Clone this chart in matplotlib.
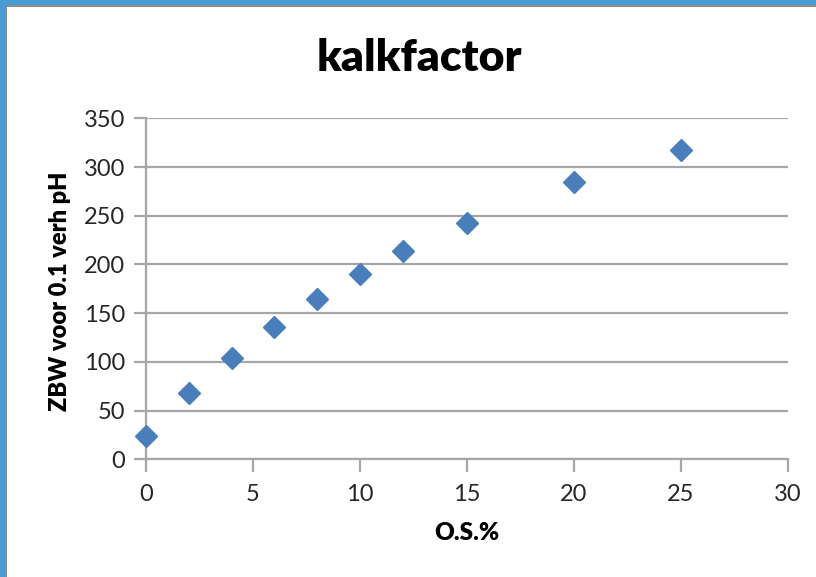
import matplotlib
matplotlib.use("Agg")
import matplotlib.pyplot as plt
from matplotlib.patches import Rectangle

plt.rcParams['font.family'] = ['Lato', 'DejaVu Sans']

# O.S.% versus ZBW needed for a 0.1 pH shift
os_pct = [0, 2, 4, 6, 8, 10, 12, 15, 20, 25]
zbw = [24, 68, 104, 136, 165, 190, 214, 243, 285, 317]

x_ticks = [0, 5, 10, 15, 20, 25, 30]
y_ticks = [0, 50, 100, 150, 200, 250, 300, 350]

W, H = 816, 577
fig = plt.figure(figsize=(W / 100, H / 100), dpi=100)
fig.patch.set_facecolor('white')

ax = fig.add_axes([146 / W, 1 - 459.3 / H, (788 - 146) / W, (459.3 - 118.3) / H])
ax.set_xlim(0, 30)
ax.set_ylim(0, 350)
ax.set_xticks(x_ticks)
ax.set_yticks(y_ticks)

grid_c = '#a6a6a6'
ax.yaxis.grid(True, color=grid_c, linewidth=1.6)
ax.set_axisbelow(True)
for s in ('top', 'right'):
    ax.spines[s].set_visible(False)
for s in ('left', 'bottom'):
    ax.spines[s].set_color(grid_c)
    ax.spines[s].set_linewidth(1.6)
ax.tick_params(axis='both', direction='out', length=9, width=1.6, color=grid_c,
               labelsize=17, labelcolor='#262626', pad=6)
ax.tick_params(axis='x', pad=9)

ax.plot(os_pct, zbw, linestyle='none', marker='D', markersize=11,
        color='#4a7ebb', markeredgecolor='#4a7ebb', clip_on=False, zorder=3)

fig.text(419 / W, 1 - 58 / H, 'kalkfactor', ha='center', va='center',
         fontsize=32, fontweight='heavy', color='black')
fig.text(467 / W, 1 - 533 / H, 'O.S.%', ha='center', va='center',
         fontsize=17.5, fontweight='heavy', color='black')
fig.text(60 / W, 1 - 291 / H, 'ZBW voor 0.1 verh pH', ha='center', va='center',
         rotation=90, fontsize=17, fontweight='heavy', color='black')

# selection frame along the top and left edges
blue = '#4a9bd6'
fig.patches.append(Rectangle((0, 1 - 5 / H), 1, 5 / H, transform=fig.transFigure,
                             facecolor=blue, edgecolor='none'))
fig.patches.append(Rectangle((0, 1 - 7 / H), 1, 2 / H, transform=fig.transFigure,
                             facecolor='#8c8c8c', edgecolor='none'))
fig.patches.append(Rectangle((0, 0), 5 / W, 1, transform=fig.transFigure,
                             facecolor=blue, edgecolor='none'))
fig.patches.append(Rectangle((5 / W, 0), 2 / W, 1 - 5 / H, transform=fig.transFigure,
                             facecolor='#8c8c8c', edgecolor='none'))

fig.savefig('out.png', dpi=100, facecolor='white')
